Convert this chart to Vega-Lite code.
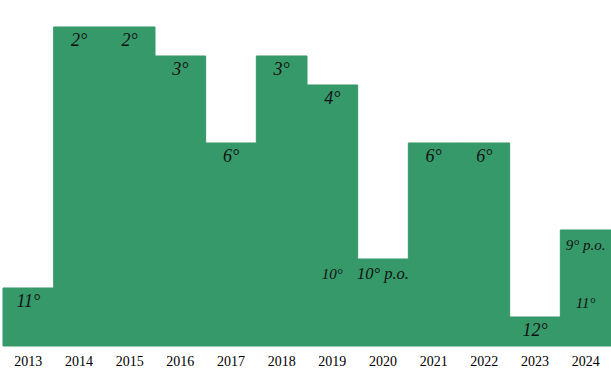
{
  "$schema": "https://vega.github.io/schema/vega-lite/v6.json",
  "width": 608,
  "height": 346,
  "autosize": {"type": "none"},
  "padding": {"left": 3, "top": 0, "right": 0, "bottom": 26},
  "background": "white",
  "config": {"view": {"stroke": null}, "font": "Liberation Serif"},
  "datasets": {
    "bars": [
      {"year": "2013", "value": 2},
      {"year": "2014", "value": 11},
      {"year": "2015", "value": 11},
      {"year": "2016", "value": 10},
      {"year": "2017", "value": 7},
      {"year": "2018", "value": 10},
      {"year": "2019", "value": 9},
      {"year": "2020", "value": 3},
      {"year": "2021", "value": 7},
      {"year": "2022", "value": 7},
      {"year": "2023", "value": 1},
      {"year": "2024", "value": 4}
    ],
    "labels": [
      {"year": "2013", "level": 2, "label": "11°", "kind": "main"},
      {"year": "2014", "level": 11, "label": "2°", "kind": "main"},
      {"year": "2015", "level": 11, "label": "2°", "kind": "main"},
      {"year": "2016", "level": 10, "label": "3°", "kind": "main"},
      {"year": "2017", "level": 7, "label": "6°", "kind": "main"},
      {"year": "2018", "level": 10, "label": "3°", "kind": "main"},
      {"year": "2019", "level": 9, "label": "4°", "kind": "main"},
      {"year": "2019", "level": 3, "label": "10°", "kind": "small"},
      {"year": "2020", "level": 3, "label": "10° p.o.", "kind": "mid"},
      {"year": "2021", "level": 7, "label": "6°", "kind": "main"},
      {"year": "2022", "level": 7, "label": "6°", "kind": "main"},
      {"year": "2023", "level": 1, "label": "12°", "kind": "main"},
      {"year": "2024", "level": 4, "label": "9° p.o.", "kind": "small"},
      {"year": "2024", "level": 2, "label": "11°", "kind": "small"}
    ]
  },
  "layer": [
    {
      "data": {"name": "bars"},
      "mark": {"type": "bar", "color": "#36996a", "stroke": "#36996a", "strokeWidth": 1},
      "encoding": {
        "x": {
          "field": "year", "type": "nominal",
          "scale": {"paddingInner": 0, "paddingOuter": 0},
          "axis": {"title": null, "labelAngle": 0, "ticks": false, "domain": false, "labelFontSize": 14, "labelColor": "#000", "labelPadding": 8, "labelFont": "Liberation Serif"}
        },
        "y": {
          "field": "value", "type": "quantitative",
          "scale": {"domain": [0, 11.93], "nice": false},
          "axis": null
        }
      }
    },
    {
      "data": {"name": "labels"},
      "transform": [{"filter": "datum.kind == 'main'"}],
      "mark": {"type": "text", "baseline": "top", "dy": 5, "fontSize": 18, "fontStyle": "italic", "color": "#111", "font": "Liberation Serif"},
      "encoding": {
        "x": {"field": "year", "type": "nominal"},
        "y": {"field": "level", "type": "quantitative"},
        "text": {"field": "label"}
      }
    },
    {
      "data": {"name": "labels"},
      "transform": [{"filter": "datum.kind == 'mid'"}],
      "mark": {"type": "text", "baseline": "top", "dy": 7, "fontSize": 16.5, "fontStyle": "italic", "color": "#111", "font": "Liberation Serif"},
      "encoding": {
        "x": {"field": "year", "type": "nominal"},
        "y": {"field": "level", "type": "quantitative"},
        "text": {"field": "label"}
      }
    },
    {
      "data": {"name": "labels"},
      "transform": [{"filter": "datum.kind == 'small'"}],
      "mark": {"type": "text", "baseline": "top", "dy": 8, "fontSize": 15, "fontStyle": "italic", "color": "#111", "font": "Liberation Serif"},
      "encoding": {
        "x": {"field": "year", "type": "nominal"},
        "y": {"field": "level", "type": "quantitative"},
        "text": {"field": "label"}
      }
    }
  ]
}
